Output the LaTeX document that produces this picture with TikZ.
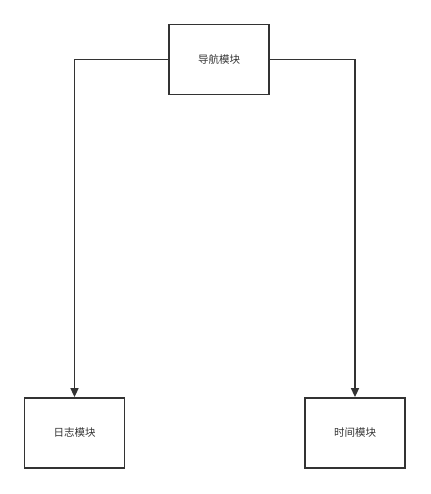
\documentclass[tikz,border=0pt]{standalone}
\usepackage{fontspec}
\newfontfamily\cjk{Noto Sans CJK SC}
\usetikzlibrary{arrows.meta}
\definecolor{ink}{HTML}{333333}
\begin{document}
\begin{tikzpicture}[x=1pt,y=-1pt,
  modbox/.style={draw=ink,line width=1.8pt,minimum width=100pt,minimum height=70pt,inner sep=0pt,font=\cjk\fontsize{10.5pt}{12pt}\selectfont,text=ink},
  conn/.style={draw=ink,line width=1.6pt,-{Triangle[length=9pt,width=8pt]}}]
\useasboundingbox (0,0) rectangle (430,494);
\node[modbox] (nav) at (219,59.5) {导航模块};
\node[modbox] (log) at (74.5,433) {日志模块};
\node[modbox] (time) at (355,433) {时间模块};
\draw[conn] (nav.west) -| (log.north);
\draw[conn] (nav.east) -| (time.north);
\end{tikzpicture}
\end{document}
